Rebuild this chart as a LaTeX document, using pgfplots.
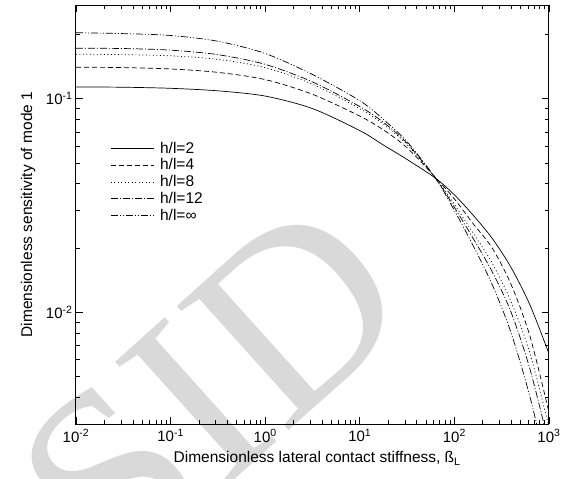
\documentclass[border=0pt]{standalone}
\usepackage{fontspec}
\setmainfont{Liberation Sans}
\newfontfamily\wmfont{Liberation Serif}
\usepackage{pgfplots}
\pgfplotsset{compat=1.18}

\begin{document}
\begin{tikzpicture}
% watermark, behind the axis (axis box south west sits at 0,0)
\node[rotate=42, text=black!15, font=\wmfont\fontsize{255}{255}\selectfont, inner sep=0pt]
  at (136pt,36pt) {SID};
\begin{axis}[
    name=ax,
    xmode=log, ymode=log,
    scale only axis, width=473pt, height=419pt,
    xmin=1e-2, xmax=1e3, ymin=3e-3, ymax=0.275,
    xtick={0.01,0.1,1,10,100,1000},
    xticklabels={10\textsuperscript{-2},10\textsuperscript{-1},10\textsuperscript{0},10\textsuperscript{1},10\textsuperscript{2},10\textsuperscript{3}},
    minor xtick={0.02,0.03,0.04,0.05,0.06,0.07,0.08,0.09,
                 0.2,0.3,0.4,0.5,0.6,0.7,0.8,0.9,
                 2,3,4,5,6,7,8,9,20,30,40,50,60,70,80,90,
                 200,300,400,500,600,700,800,900},
    ytick={0.01,0.1},
    yticklabels={10\textsuperscript{-2},10\textsuperscript{-1}},
    minor ytick={0.004,0.005,0.006,0.007,0.008,0.009,
                 0.02,0.03,0.04,0.05,0.06,0.07,0.08,0.09,0.2},
    tick align=inside,
    major tick length=7pt, minor tick length=4pt,
    every tick/.style={black, line width=0.8pt},
    axis line style={line width=1pt},
    ticklabel style={font=\fontsize{15}{18}\selectfont},
    xticklabel style={yshift=-2pt},
    label style={font=\fontsize{15.5}{18}\selectfont},
    xlabel={Dimensionless lateral contact stiffness, ß\textsubscript{L}},
    ylabel={Dimensionless sensitivity of mode 1},
    xlabel style={at={(axis description cs:0.51,-0.093)}, anchor=base},
    ylabel style={at={(axis description cs:-0.101,0.5)}, anchor=center},
    legend style={at={(axis description cs:0.066,0.683)}, anchor=north west,
                  draw=none, fill=none, font=\fontsize{15.5}{18}\selectfont,
                  row sep=0pt,
                  /tikz/every odd column/.append style={column sep=4pt}},
    legend cell align=left,
    legend image code/.code={\draw[#1] (0pt,0pt) -- (43pt,0pt);},
    every axis plot/.append style={black, line width=0.7pt, smooth, mark=none},
  ]
\addplot[solid] coordinates {(0.01,0.1137) (0.0316,0.1133) (0.1,0.112) (0.316,0.109)
  (1,0.103) (3.16,0.090) (10,0.071) (17.8,0.0607) (31.6,0.052) (63.1,0.0425)
  (100,0.0355) (158,0.0285) (251,0.0222) (398,0.0162) (631,0.0108) (1000,0.0064)};
\addlegendentry{h/l=2}
\addplot[dash pattern=on 5pt off 3pt] coordinates {(0.01,0.1406) (0.0316,0.140)
  (0.1,0.138) (0.316,0.133) (1,0.123) (3.16,0.105) (10,0.083) (17.8,0.0715)
  (31.6,0.059) (63.1,0.0428) (100,0.034) (158,0.026) (251,0.0200) (398,0.0135)
  (631,0.0077) (1000,0.0034)};
\addlegendentry{h/l=4}
\addplot[dash pattern=on 1pt off 2.5pt] coordinates {(0.01,0.1617) (0.0316,0.161)
  (0.1,0.159) (0.316,0.153) (1,0.140) (3.16,0.117) (10,0.090) (17.8,0.076)
  (31.6,0.061) (63.1,0.0425) (100,0.032) (158,0.0235) (251,0.0170) (398,0.0112)
  (631,0.0064) (1000,0.0029)};
\addlegendentry{h/l=8}
\addplot[dash pattern=on 7pt off 2pt on 1pt off 2pt] coordinates {(0.01,0.1726)
  (0.0316,0.172) (0.1,0.169) (0.316,0.161) (1,0.145) (3.16,0.120) (10,0.092)
  (17.8,0.0776) (31.6,0.0619) (63.1,0.0425) (100,0.031) (158,0.0222) (251,0.0155)
  (398,0.0100) (631,0.0054) (1000,0.0024)};
\addlegendentry{h/l=12}
\addplot[dash pattern=on 7pt off 2pt on 1pt off 2pt on 1pt off 2pt] coordinates {
  (0.01,0.204) (0.0316,0.202) (0.1,0.198) (0.316,0.186) (1,0.163) (3.16,0.130)
  (10,0.098) (17.8,0.080) (31.6,0.063) (63.1,0.0425) (100,0.030) (158,0.0205)
  (251,0.0135) (398,0.0080) (631,0.0040) (1000,0.0017)};
\addlegendentry{h/l=∞}
\end{axis}
\pgfresetboundingbox
\path (-76pt,-55pt) rectangle (490pt,424pt);
\end{tikzpicture}
\end{document}
